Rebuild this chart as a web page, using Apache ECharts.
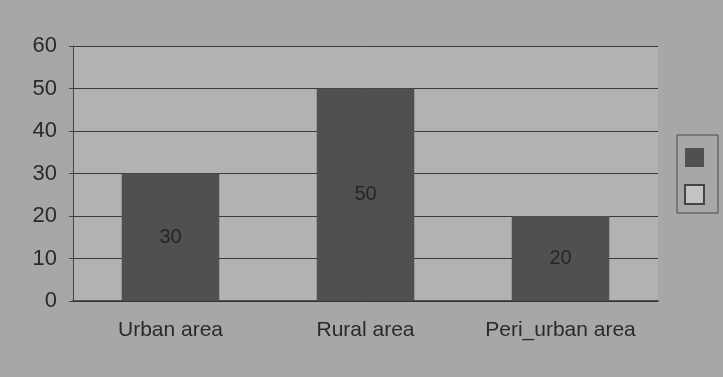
<!DOCTYPE html>
<html>
<head>
<meta charset="utf-8">
<script src="https://cdn.jsdelivr.net/npm/echarts@6/dist/echarts.min.js"></script>
<style>
  html, body { margin: 0; padding: 0; background: #a7a7a7; }
  #chart { width: 723px; height: 377px; }
</style>
</head>
<body>
<div id="chart"></div>
<script>
// data
const categories = ['Urban area', 'Rural area', 'Peri_urban area'];
const values = [30, 50, 20];
const yTicks = [0, 10, 20, 30, 40, 50, 60];

var myChart = echarts.init(document.getElementById('chart'));

var option = {
    backgroundColor: '#a7a7a7',
    textStyle: { fontFamily: 'Liberation Sans' },
    grid: {
        left: 73,
        right: 65,
        top: 46,
        bottom: 76,
        show: true,
        backgroundColor: '#b2b2b2',
        borderWidth: 0
    },
    legend: {
        orient: 'vertical',
        left: 677,
        top: 135,
        icon: 'rect',
        itemWidth: 19,
        itemHeight: 19,
        itemGap: 17,
        padding: [13, 13, 8, 7],
        borderColor: '#4a4a4a',
        borderWidth: 1,
        formatter: function () { return ''; },
        selectedMode: false,
        data: ['a', 'b']
    },
    xAxis: {
        type: 'category',
        data: categories,
        axisTick: { show: false },
        axisLine: { lineStyle: { color: '#333', width: 1.5 } },
        axisLabel: { color: '#2a2a2a', fontSize: 21, margin: 19, interval: 0 }
    },
    yAxis: {
        type: 'value',
        min: yTicks[0],
        max: yTicks[yTicks.length - 1],
        interval: 10,
        axisLine: { show: true, lineStyle: { color: '#444' } },
        axisTick: { show: true, length: 4, lineStyle: { color: '#444' } },
        axisLabel: { color: '#2a2a2a', fontSize: 22, margin: 16 },
        splitLine: { lineStyle: { color: '#3a3a3a', width: 1 } }
    },
    series: [
        {
            name: 'a',
            type: 'bar',
            data: values,
            barWidth: '50%',
            barGap: '-100%',
            itemStyle: { color: '#505050' },
            label: {
                show: true,
                position: 'inside',
                color: '#262626',
                fontSize: 20
            }
        },
        {
            name: 'b',
            type: 'bar',
            data: [],
            barWidth: '50%',
            barGap: '-100%',
            itemStyle: { color: '#c4c4c4', borderColor: '#444', borderWidth: 1.5 }
        }
    ]
};

myChart.setOption(option);
</script>
</body>
</html>
